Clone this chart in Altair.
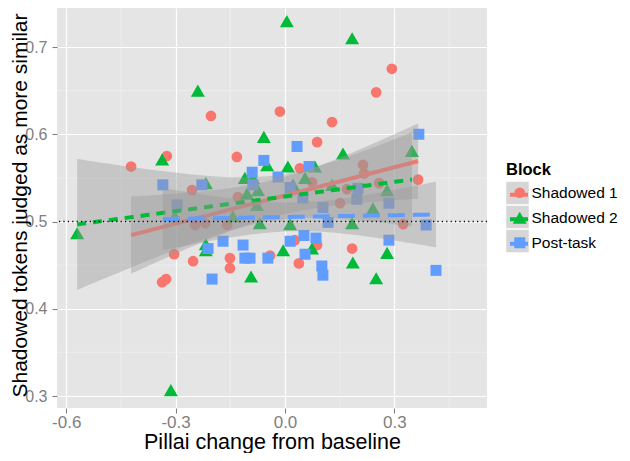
import altair as alt
import pandas as pd
import numpy as np

blocks = ["Shadowed 1", "Shadowed 2", "Post-task"]
colors = ["#F8766D", "#00BA38", "#619CFF"]
shapes = ["circle", "triangle-up", "square"]

s1_x = [0.293, 0.250, -0.014, -0.203, 0.129, 0.088, -0.324, -0.422, -0.132, 0.041,
        -0.255, 0.365, 0.214, 0.217, 0.258, 0.151, 0.074, -0.129, -0.247, -0.219,
        -0.159, -0.304, -0.252, -0.151, -0.151, -0.337, -0.326, -0.041, 0.027, 0.038,
        0.088, 0.184, 0.324, 0.170]
s1_y = [0.675, 0.648, 0.626, 0.621, 0.614, 0.591, 0.575, 0.563, 0.574, 0.561,
        0.536, 0.548, 0.565, 0.555, 0.544, 0.521, 0.545, 0.528, 0.496, 0.498,
        0.496, 0.4625, 0.4545, 0.458, 0.4465, 0.4304, 0.434, 0.461, 0.4786, 0.452,
        0.473, 0.469, 0.497, 0.537]

s2_x = [0.005, 0.184, -0.239, -0.058, -0.337, 0.159, 0.348, -0.049, 0.008, 0.082,
        -0.217, -0.110, -0.088, -0.104, -0.074, 0.055, 0.022, 0.129, 0.280, 0.241,
        -0.077, -0.143, -0.302, -0.069, 0.014, 0.184, -0.570, -0.217, -0.217, -0.005,
        0.074, 0.186, 0.280, 0.250, -0.093, -0.313]
s2_y = [0.7296, 0.710, 0.650, 0.597, 0.571, 0.578, 0.581, 0.5645, 0.563, 0.563,
        0.544, 0.550, 0.550, 0.532, 0.536, 0.550, 0.542, 0.542, 0.536, 0.515,
        0.519, 0.506, 0.506, 0.498, 0.497, 0.498, 0.4866, 0.474, 0.467, 0.467,
        0.469, 0.453, 0.464, 0.435, 0.437, 0.3067]

pt_x = [0.367, 0.033, -0.058, -0.090, -0.019, 0.066, -0.335, -0.228, -0.296, 0.200,
        0.197, 0.285, 0.049, 0.104, 0.014, -0.088, 0.118, -0.170, -0.115, -0.110,
        -0.211, -0.200, -0.047, -0.096, 0.014, 0.052, 0.085, 0.055, 0.101, 0.104,
        0.285, 0.387, 0.414]
pt_y = [0.600, 0.586, 0.570, 0.5565, 0.551, 0.563, 0.542, 0.542, 0.519, 0.538,
        0.5255, 0.521, 0.527, 0.516, 0.539, 0.542, 0.499, 0.4774, 0.473, 0.458,
        0.469, 0.434, 0.458, 0.458, 0.4774, 0.484, 0.481, 0.4625, 0.449, 0.4385,
        0.4786, 0.496, 0.444]

x_ticks = [-0.6, -0.3, 0.0, 0.3]
y_ticks = [0.3, 0.4, 0.5, 0.6, 0.7]
x_minor = [-0.45, -0.15, 0.15, 0.45]
y_minor = [0.35, 0.45, 0.55, 0.65]
reference_level = 0.5

groups = list(zip(blocks, [s1_x, s2_x, pt_x], [s1_y, s2_y, pt_y]))

rows = []
for b, xs, ys in groups:
    for xv, yv in zip(xs, ys):
        rows.append({"pillai": xv, "prop": yv, "Block": b})
pts = pd.DataFrame(rows)


def t975(df):
    z = 1.959964
    g1 = (z**3 + z) / 4
    g2 = (5 * z**5 + 16 * z**3 + 3 * z) / 96
    g3 = (3 * z**7 + 19 * z**5 + 17 * z**3 - 15 * z) / 384
    return z + g1 / df + g2 / df**2 + g3 / df**3


fit_rows = []
for b, xs, ys in groups:
    x = np.array(xs)
    y = np.array(ys)
    n = len(x)
    slope, icpt = np.polyfit(x, y, 1)
    resid = y - (icpt + slope * x)
    s = np.sqrt(np.sum(resid**2) / (n - 2))
    xbar = x.mean()
    sxx = np.sum((x - xbar) ** 2)
    t = t975(n - 2)
    for gx in np.linspace(x.min(), x.max(), 80):
        f = icpt + slope * gx
        se = s * np.sqrt(1.0 / n + (gx - xbar) ** 2 / sxx)
        fit_rows.append({"pillai": gx, "prop": f, "lo": f - t * se, "hi": f + t * se, "Block": b})
fits = pd.DataFrame(fit_rows)

xscale = alt.Scale(domain=[-0.6252, 0.5539], nice=False, zero=False)
yscale = alt.Scale(domain=[0.28625, 0.7447], nice=False, zero=False)
lab = "replace(format(datum.value, '.1f'), '\u2212', '-')"
xaxis = alt.Axis(values=x_ticks, title="Pillai change from baseline", labelExpr=lab,
                 grid=True, gridColor="white", gridWidth=1.2, domain=False,
                 tickColor="#7F7F7F", tickSize=5, tickWidth=1.1, labelColor="#7F7F7F",
                 labelFontSize=17, labelPadding=1, titleFontSize=21.5, titleFontWeight="normal",
                 titleColor="black", titlePadding=1)
yaxis = alt.Axis(values=y_ticks, title="Shadowed tokens judged as more similar", labelExpr=lab,
                 grid=True, gridColor="white", gridWidth=1.2, domain=False,
                 tickColor="#7F7F7F", tickSize=5, tickWidth=1.1, labelColor="#7F7F7F",
                 labelFontSize=16, labelPadding=5, titleFontSize=21, titleFontWeight="normal",
                 titleColor="black", titlePadding=0, titleY=197, titleX=-27)

X = alt.X("pillai:Q", scale=xscale, axis=xaxis)
Y = alt.Y("prop:Q", scale=yscale, axis=yaxis)

minor_v = alt.Chart(pd.DataFrame({"pillai": x_minor})).mark_rule(
    color="#F2F2F2", strokeWidth=0.6).encode(x=X)
minor_h = alt.Chart(pd.DataFrame({"prop": y_minor})).mark_rule(
    color="#F2F2F2", strokeWidth=0.6).encode(y=Y)

main_legend = alt.Legend(orient="none", legendX=455, legendY=177, title=None,
                         labelFontSize=15.5, labelColor="black", labelOffset=4,
                         symbolSize=130, symbolOpacity=1, symbolStrokeWidth=0,
                         rowPadding=8, zindex=2)

points = alt.Chart(pts).mark_point(filled=True, opacity=1, strokeWidth=0).encode(
    x=X, y=Y,
    color=alt.Color("Block:N", scale=alt.Scale(domain=blocks, range=colors), legend=main_legend),
    shape=alt.Shape("Block:N", scale=alt.Scale(domain=blocks, range=shapes), legend=main_legend),
    size=alt.Size("Block:N", scale=alt.Scale(type="ordinal", domain=blocks, range=[115, 196, 121]),
                  legend=None),
)

dash_ranges = [[1, 0], [9, 7], [17, 8]]
smooth_layers = []
for b, col, dash in zip(blocks, colors, dash_ranges):
    sub = alt.Chart(fits).transform_filter(alt.datum.Block == b)
    band = sub.mark_area(color="#999999", opacity=0.4).encode(
        x=X, y=alt.Y("lo:Q", scale=yscale, axis=yaxis), y2="hi:Q")
    line = sub.mark_line(color=col, strokeWidth=4, strokeDash=dash).encode(x=X, y=Y)
    smooth_layers += [band, line]

hline = alt.Chart(pd.DataFrame({"prop": [reference_level]})).mark_rule(
    color="black", strokeWidth=1.3, strokeDash=[1.2, 3.2]).encode(y=Y)

key_legend = alt.Legend(orient="none", legendX=449, legendY=154, title="Block",
                        titleFontSize=16.5, titleFontWeight="bold", titleColor="black",
                        titlePadding=3, symbolType="square", symbolSize=506,
                        symbolOpacity=1, symbolStrokeWidth=0, labelExpr="''",
                        labelFontSize=8, rowPadding=1, zindex=0)
keys = alt.Chart(pts).mark_square(opacity=0).encode(
    x=X, y=Y,
    fill=alt.Fill("Block:N", sort=blocks, scale=alt.Scale(range=["#D6D6D6"] * 3), legend=key_legend),
)

line_legend = alt.Legend(orient="none", legendX=451, legendY=175.75, title=None,
                         symbolType="stroke", symbolSize=324, symbolStrokeWidth=4,
                         symbolOpacity=1, labelExpr="''", labelFontSize=8,
                         rowPadding=5.5, zindex=1)
key_lines = alt.Chart(fits).mark_line(opacity=0, strokeWidth=4).encode(
    x=X, y=Y,
    stroke=alt.Stroke("Block:N", sort=blocks, scale=alt.Scale(range=colors), legend=line_legend),
)

chart = alt.layer(minor_v, minor_h, points, *smooth_layers, hline, keys, key_lines).properties(
    width=430, height=400,
    autosize=alt.AutoSizeParams(type="none"),
    padding={"left": 49, "top": 0, "right": 135, "bottom": 45},
).configure(font="Liberation Sans").configure_view(fill="#E5E5E5", stroke=None)

chart.save("out.html", embed_options={"renderer": "svg", "actions": False})
